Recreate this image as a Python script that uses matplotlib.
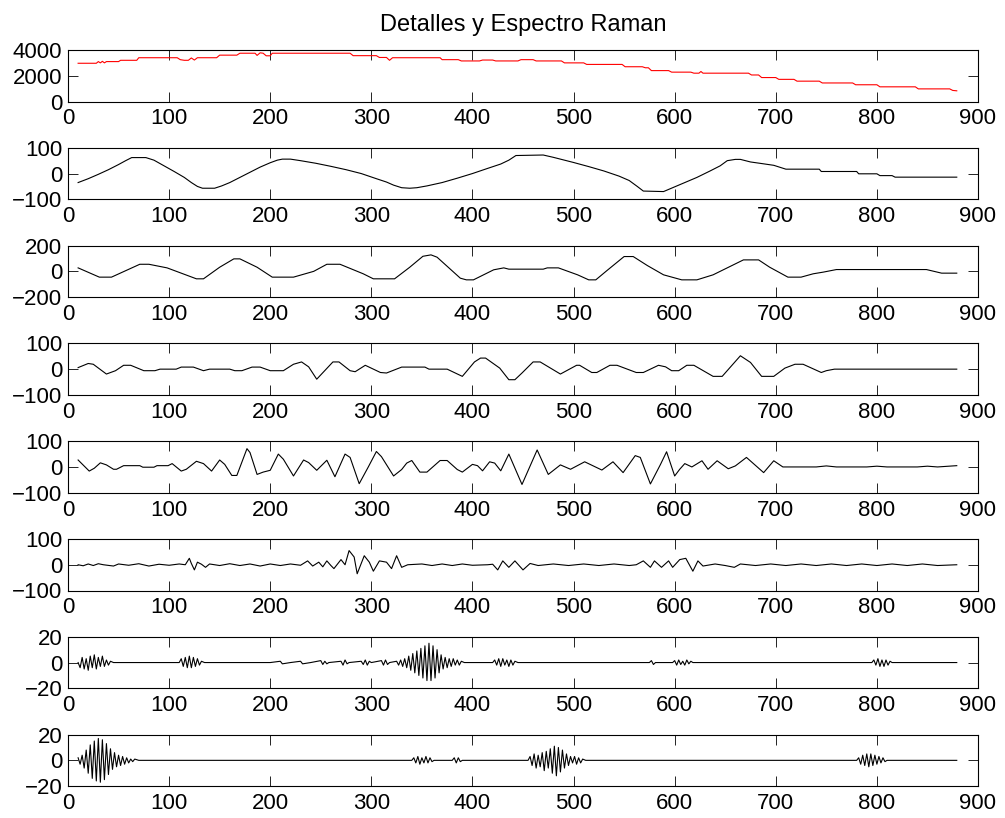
import numpy as np
import matplotlib.pyplot as plt

plt.rcParams['font.family'] = ['Liberation Sans', 'DejaVu Sans']

# espectro (aproximación) y detalles d1..d7, como pares (x, valor)
espectro = np.array([(10, 2970), (28, 2970), (30, 3100), (32, 3000), (34, 3120), (36, 3000), (38, 3100), (50, 3100),
                     (52, 3200), (68, 3200), (70, 3400), (108, 3400), (111, 3250), (115, 3200), (119, 3200), (122, 3380),
                     (125, 3220), (128, 3400), (147, 3400), (150, 3600), (167, 3600), (170, 3750), (185, 3750), (187, 3580),
                     (190, 3780), (193, 3750), (196, 3550), (200, 3550), (202, 3750), (279, 3750), (282, 3560), (305, 3560),
                     (308, 3420), (315, 3420), (318, 3200), (321, 3400), (368, 3400), (370, 3250), (386, 3250), (389, 3150),
                     (407, 3150), (410, 3220), (420, 3220), (423, 3150), (445, 3150), (448, 3250), (460, 3250), (463, 3150),
                     (488, 3150), (491, 3000), (510, 3000), (513, 2880), (548, 2880), (551, 2700), (568, 2700), (571, 2620),
                     (574, 2620), (577, 2400), (594, 2400), (597, 2280), (616, 2280), (619, 2200), (624, 2200), (626, 2330),
                     (628, 2200), (673, 2200), (676, 2060), (683, 2060), (686, 1860), (700, 1860), (703, 1720), (718, 1720),
                     (721, 1580), (743, 1580), (746, 1440), (776, 1440), (779, 1300), (800, 1300), (803, 1140), (838, 1140),
                     (841, 980), (872, 980), (875, 860), (879, 830)])

det_a = np.array([(10, -35), (20, -20), (30, -3), (40, 15), (50, 35), (57, 50), (63, 62), (77, 62), (85, 52), (95, 30),
                  (105, 8), (115, -15), (122, -35), (128, -50), (133, -57), (145, -57), (152, -48), (160, -35),
                  (170, -15), (180, 5), (190, 25), (200, 42), (207, 52), (212, 56), (220, 56), (230, 50), (245, 40),
                  (260, 28), (275, 15), (290, 0), (305, -20), (315, -33), (322, -45), (330, -55), (338, -57),
                  (345, -55), (355, -48), (370, -35), (385, -18), (400, 0), (415, 20), (428, 37), (436, 52), (443, 70),
                  (470, 72), (480, 63), (490, 53), (500, 43), (515, 27), (530, 10), (545, -10), (555, -27), (563, -50),
                  (569, -68), (589, -70), (598, -55), (610, -35), (622, -15), (635, 10), (645, 30), (652, 50),
                  (660, 55), (665, 55), (675, 45), (684, 40), (698, 32), (710, 17), (743, 17), (745, 8), (780, 8),
                  (782, -1), (800, -1), (803, -8), (815, -8), (818, -14), (879, -14)])

det_b = np.array([(10, 27), (31, -45), (43, -45), (71, 55), (80, 55), (98, 27), (127, -58), (134, -58), (150, 32),
                  (164, 97), (170, 97), (187, 32), (202, -45), (223, -45), (243, 0), (256, 55), (269, 55), (292, -19),
                  (302, -58), (323, -58), (338, 32), (351, 117), (359, 128), (365, 110), (388, -53), (394, -66),
                  (401, -66), (421, 12), (431, 27), (436, 17), (470, 17), (474, 27), (485, 27), (504, -27), (515, -66),
                  (522, -66), (533, 6), (550, 115), (559, 115), (573, 45), (589, -27), (607, -66), (622, -66),
                  (638, -27), (668, 89), (683, 89), (694, 32), (712, -45), (725, -45), (737, -19), (747, -6),
                  (760, 14), (849, 14), (864, -14), (879, -14)])

det_c = np.array([(10, 6), (20, 22), (25, 19), (38, -19), (47, -6), (55, 15), (62, 15), (75, -6), (86, -6), (91, 0),
                  (107, 0), (112, 8), (124, 8), (134, -6), (140, 0), (160, 0), (165, -6), (172, -6), (182, 8), (190, 8),
                  (200, -6), (213, -6), (223, 19), (231, 28), (238, 9), (246, -39), (262, 28), (268, 28), (279, -6),
                  (284, -10), (294, 15), (309, -13), (315, -15), (330, 8), (353, 8), (357, 0), (375, 0), (390, -28),
                  (402, 28), (408, 43), (413, 43), (427, 4), (436, -41), (442, -41), (449, -15), (460, 28), (467, 28),
                  (487, -19), (503, 15), (506, 15), (518, -13), (523, -13), (536, 15), (543, 15), (562, -13),
                  (569, -13), (584, 15), (591, 9), (597, -6), (604, -6), (612, 15), (619, 15), (638, -28), (647, -28),
                  (665, 52), (675, 26), (686, -28), (698, -28), (709, 4), (719, 19), (727, 19), (745, -13), (750, -6),
                  (758, 0), (879, 0)])

det_d = np.array([(10, 27), (21, -16), (26, -5), (32, 16), (38, 8), (45, -9), (48, -9), (55, 5), (71, 5), (74, -1),
                  (85, -1), (88, 5), (99, 5), (103, 13), (112, -16), (117, -9), (127, 22), (134, 13), (142, -16),
                  (150, 27), (155, 10), (162, -33), (167, -33), (177, 71), (180, 56), (187, -29), (193, -20),
                  (200, -13), (208, 50), (213, 30), (223, -35), (233, 27), (238, 17), (246, -13), (256, 26),
                  (264, -38), (274, 50), (279, 37), (288, -65), (297, 0), (305, 60), (310, 40), (322, -35),
                  (330, -10), (335, 15), (340, 25), (348, -20), (355, -20), (368, 25), (375, 25), (385, -10),
                  (390, -20), (400, 10), (405, 5), (410, -15), (417, 20), (422, 15), (428, -15), (436, 50),
                  (449, -68), (464, 66), (475, -29), (487, 8), (497, -9), (511, 20), (528, -12), (539, 20),
                  (549, -22), (561, 44), (566, 37), (576, -66), (586, 10), (592, 59), (600, -35), (605, -9),
                  (610, 13), (617, 0), (627, 24), (633, -9), (642, 24), (653, -7), (660, 4), (671, 37), (688, -22),
                  (698, 24), (707, 0), (740, 0), (750, 4), (760, 0), (790, 0), (800, 3), (810, 0), (840, 0),
                  (850, 3), (860, 0), (879, 5)])

det_e = np.array([(10, 0), (15, -4), (20, 3), (25, -3), (30, 4), (35, 0), (45, -5), (50, 3), (60, -2), (70, 4),
                  (80, -5), (90, 2), (100, -2), (110, 3), (116, 0), (120, 25), (122, 5), (125, -20), (128, 10),
                  (132, 2), (136, -10), (140, 3), (150, -3), (160, 4), (170, -3), (180, 3), (190, -5), (200, 3),
                  (210, -3), (220, 3), (230, -2), (237, 15), (242, -5), (248, 10), (252, -8), (256, 15), (260, -3),
                  (263, -15), (270, 20), (274, 0), (278, 55), (283, 30), (286, -35), (293, 35), (298, 10), (302, -25),
                  (308, 15), (315, 10), (320, -15), (325, 35), (330, -10), (336, 0), (350, 3), (360, -3), (370, 3),
                  (380, -3), (390, 3), (400, -2), (415, 0), (420, 2), (425, -20), (430, 15), (436, -10), (442, 15),
                  (450, -20), (457, 5), (465, -3), (480, 3), (495, -3), (510, 3), (525, -3), (540, 3), (555, -3),
                  (562, 0), (569, 15), (576, -10), (580, 15), (587, -10), (594, 15), (598, -10), (605, 20), (611, 25),
                  (618, -25), (623, 15), (628, -5), (640, 3), (650, -3), (659, -10), (665, 3), (680, -3), (695, 3),
                  (710, -3), (725, 3), (740, -3), (755, 3), (770, -3), (785, 3), (800, -3), (815, 3), (830, -3),
                  (845, 3), (860, -3), (879, 0)])

det_f = np.array([(10, 0), (12, -4), (14, 4), (16, -5), (18, 3), (20, -6), (22, 5), (24, -4), (26, 6), (28, -5),
                  (30, 4), (32, -3), (34, 5), (36, -3), (38, 2), (40, -2), (42, 1), (45, 0), (110, 0), (112, 3),
                  (114, -3), (116, 4), (118, -4), (120, 5), (122, -4), (124, 4), (126, -3), (128, 3), (130, -2),
                  (132, 1), (135, 0), (200, 0), (210, 1), (212, -1), (220, 0), (230, 1), (232, -1), (240, 0),
                  (250, 1.5), (252, -1.5), (254, 1), (256, -1), (258, 0), (270, 1), (272, -2), (274, 2), (276, -1),
                  (278, 0), (290, 1), (292, -1.5), (294, 2), (296, -2), (298, 1), (300, 0), (310, 1.5), (312, -2),
                  (314, 2), (316, -1.5), (318, 0), (325, 1), (327, -2), (329, 2), (331, -3), (333, 3), (335, -4),
                  (337, 5), (339, -6), (341, 7), (343, -8), (345, 9), (347, -10), (349, 11), (351, -12), (353, 13),
                  (355, -14), (357, 15), (359, -14), (361, 13), (363, -12), (365, 10), (367, -8), (369, 6), (371, -5),
                  (373, 4), (375, -4), (377, 3), (379, -3), (381, 3), (383, -2), (385, 2), (387, -2), (389, 1),
                  (392, 0), (420, 0), (422, 2), (424, -2), (426, 3), (428, -3), (430, 3), (432, -2), (434, 2),
                  (436, -3), (438, 2), (440, -2), (442, 1), (445, 0), (575, 0), (577, 1.5), (579, -1.5), (581, 0),
                  (598, 0), (600, 1.5), (602, -2), (604, 2), (606, -1.5), (608, 1), (610, -2), (612, 2), (614, -1),
                  (616, 1), (618, 0), (795, 0), (797, 2), (799, -2), (801, 3), (803, -3), (805, 2), (807, -3),
                  (809, 2), (811, -2), (813, 1), (815, 0), (879, 0)])

det_g = np.array([(10, 2), (12, -3), (14, 4), (16, -6), (18, 8), (20, -10), (22, 12), (24, -14), (26, 15), (28, -16),
                  (30, 17), (32, -17), (34, 16), (36, -15), (38, 13), (40, -11), (42, 9), (44, -7), (46, 6), (48, -5),
                  (50, 4), (52, -4), (54, 3), (56, -3), (58, 2), (60, -2), (62, 1), (64, -1), (66, 1), (70, 0),
                  (340, 0), (342, 2), (344, -2), (346, 3), (348, -3), (350, 2), (352, -2), (354, 3), (356, -2),
                  (358, 2), (360, -1), (362, 0), (380, 0), (382, 2), (384, -2), (386, 2), (388, -1), (390, 0),
                  (455, 0), (457, 3), (459, -4), (461, 5), (463, -6), (465, 4), (467, -5), (469, 6), (471, -8),
                  (473, 7), (475, -6), (477, 9), (479, -10), (481, 11), (483, -12), (485, 10), (487, -9), (489, 8),
                  (491, -6), (493, 5), (495, -4), (497, 3), (499, -2), (501, 3), (503, -3), (505, 2), (507, -2),
                  (509, 1), (512, 0), (780, 0), (782, 2), (784, -3), (786, 4), (788, -4), (790, 5), (792, -5),
                  (794, 5), (796, -4), (798, 4), (800, -3), (802, 3), (804, -2), (806, 2), (808, -1), (810, 0),
                  (879, 0)])

series = [espectro, det_a, det_b, det_c, det_d, det_e, det_f, det_g]
colores = ['red'] + ['black'] * 7
ylims = [(0, 4000), (-100, 100), (-200, 200), (-100, 100), (-100, 100), (-100, 100), (-20, 20), (-20, 20)]

fig = plt.figure(figsize=(10.05, 8.18), dpi=100)
W, H = 1005, 818
top0 = 50
paso = 97.8
alto = 51.5

for i, (datos, color, lim) in enumerate(zip(series, colores, ylims)):
    top = top0 + i * paso
    ax = fig.add_axes([68 / W, 1 - (top + alto) / H, 910 / W, alto / H])
    ax.plot(datos[:, 0], datos[:, 1], color=color, linewidth=0.8)
    ax.set_xlim(0, 900)
    ax.set_ylim(*lim)
    ax.set_xticks(range(0, 901, 100))
    ax.set_yticks([lim[0], (lim[0] + lim[1]) / 2, lim[1]])
    ax.tick_params(direction='in', top=True, right=True, length=7, width=0.6, labelsize=16)
    ax.tick_params(axis='x', pad=5)
    ax.tick_params(axis='y', pad=4)
    for s in ax.spines.values():
        s.set_linewidth(0.8)
    if i == 0:
        ax.set_title('Detalles y Espectro Raman', fontsize=17, pad=14)

fig.savefig('out.png', dpi=100)
